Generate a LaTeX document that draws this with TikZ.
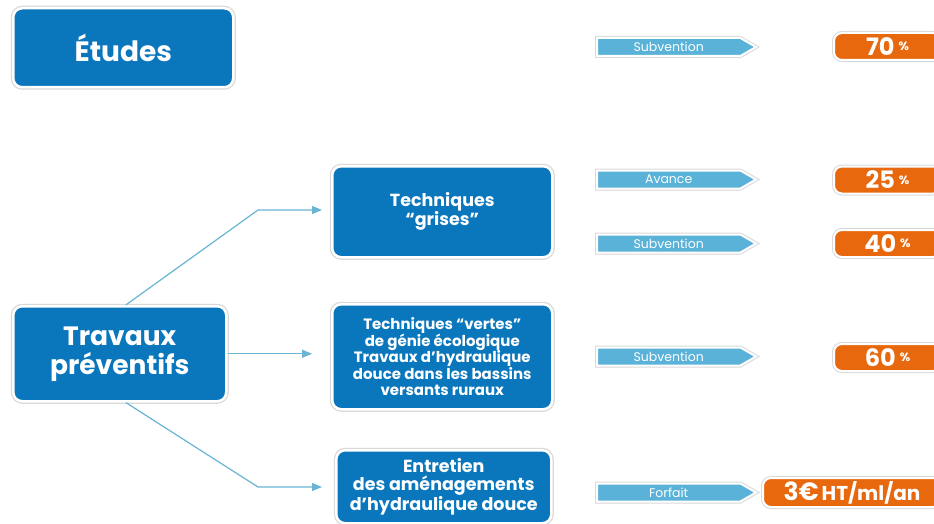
\documentclass[tikz,border=0pt]{standalone}
\usepackage{fontspec}
\setmainfont{Poppins}
\usetikzlibrary{shapes.symbols,arrows.meta}
\definecolor{dblue}{HTML}{0A77BD}
\definecolor{lblue}{HTML}{5AB2D8}
\definecolor{orng}{HTML}{E8680E}
\definecolor{conn}{HTML}{6AB4D4}
\begin{document}
\begin{tikzpicture}[x=1pt,y=-1pt,
  bigbox/.style={rounded corners=9pt, fill=dblue, draw=white, line width=2.5pt,
    preaction={draw=gray!30, line width=5pt}, text=white, font=\bfseries,
    align=center, inner sep=0pt, anchor=north west},
  tagbox/.style={shape=signal, signal to=east, signal pointer angle=60, fill=lblue,
    draw=white, line width=2pt, preaction={draw=gray!30, line width=4pt},
    text=white, font=\fontsize{12.5}{14}\selectfont, minimum height=18pt,
    minimum width=159pt, inner sep=0pt, anchor=west},
  pctbox/.style={rounded corners=8pt, fill=orng, draw=white, line width=2pt,
    preaction={draw=gray!30, line width=4pt}, text=white, font=\bfseries,
    minimum height=27pt, inner sep=0pt, anchor=west},
  conline/.style={draw=conn, line width=1.2pt, -{Triangle[length=10pt,width=8pt]}}
]
\useasboundingbox (0,0) rectangle (934,524);
\fill[white] (0,0) rectangle (934,524);

\newcommand{\pctext}[1]{{\fontsize{24}{26}\selectfont #1}\hspace{4pt}\raisebox{4.5pt}{\fontsize{12}{13}\selectfont\%}}

% big boxes
\node[bigbox, minimum width=220pt, minimum height=79pt, font=\bfseries\fontsize{28}{32}\selectfont] (etu) at (12,7) {Études};
\node[bigbox, minimum width=213pt, minimum height=95pt, font=\bfseries\fontsize{26.5}{29}\selectfont] (trav) at (12,305) {Travaux\\préventifs};
\node[bigbox, minimum width=220pt, minimum height=91pt, font=\bfseries\fontsize{17.5}{19}\selectfont] (tg) at (331,165) {Techniques\\“grises”};
\node[bigbox, minimum width=220pt, minimum height=105pt, font=\bfseries\fontsize{15}{16.5}\selectfont] (tv) at (331,303) {Techniques “vertes”\\de génie écologique\\Travaux d’hydraulique\\douce dans les bassins\\versants ruraux};
\node[bigbox, minimum width=215pt, minimum height=73pt, font=\bfseries\fontsize{17.5}{17.5}\selectfont] (ent) at (335,449) {\raisebox{0pt}[14pt][0pt]{}Entretien\\des aménagements\\d’hydraulique douce};

% connectors
\coordinate (k1) at (258,210);
\coordinate (k2) at (258,487);
\draw[conline, shorten >=9pt] ([xshift=6pt]trav.north) -- (k1) -- (k1 -| tg.west);
\draw[conline, shorten >=19pt] (trav.east) -- (trav.east -| tv.west);
\draw[conline, shorten >=13pt] ([xshift=6pt]trav.south) -- (k2) -- (k2 -| ent.west);

% tags
\node[tagbox] (t1) at (596,47) {Subvention};
\node[tagbox] (t2) at (596,179.5) {Avance};
\node[tagbox] (t3) at (596,243.5) {Subvention};
\node[tagbox] (t4) at (596,356.5) {Subvention};
\node[tagbox] (t5) at (596,492.5) {Forfait};

% percentages
\node[pctbox, minimum width=107pt] (p1) at (833,46.5) {\pctext{70}};
\node[pctbox, minimum width=107pt] (p2) at (833,180) {\pctext{25}};
\node[pctbox, minimum width=107pt] (p3) at (833,243.5) {\pctext{40}};
\node[pctbox, minimum width=107pt] (p4) at (833,357.5) {\pctext{60}};
\node[pctbox, minimum width=178pt, minimum height=29pt] (p5) at (762,492.5) {{\fontsize{25}{26}\selectfont 3€}\hspace{3pt}{\fontsize{20}{22}\selectfont HT/ml/an}};
\end{tikzpicture}
\end{document}
